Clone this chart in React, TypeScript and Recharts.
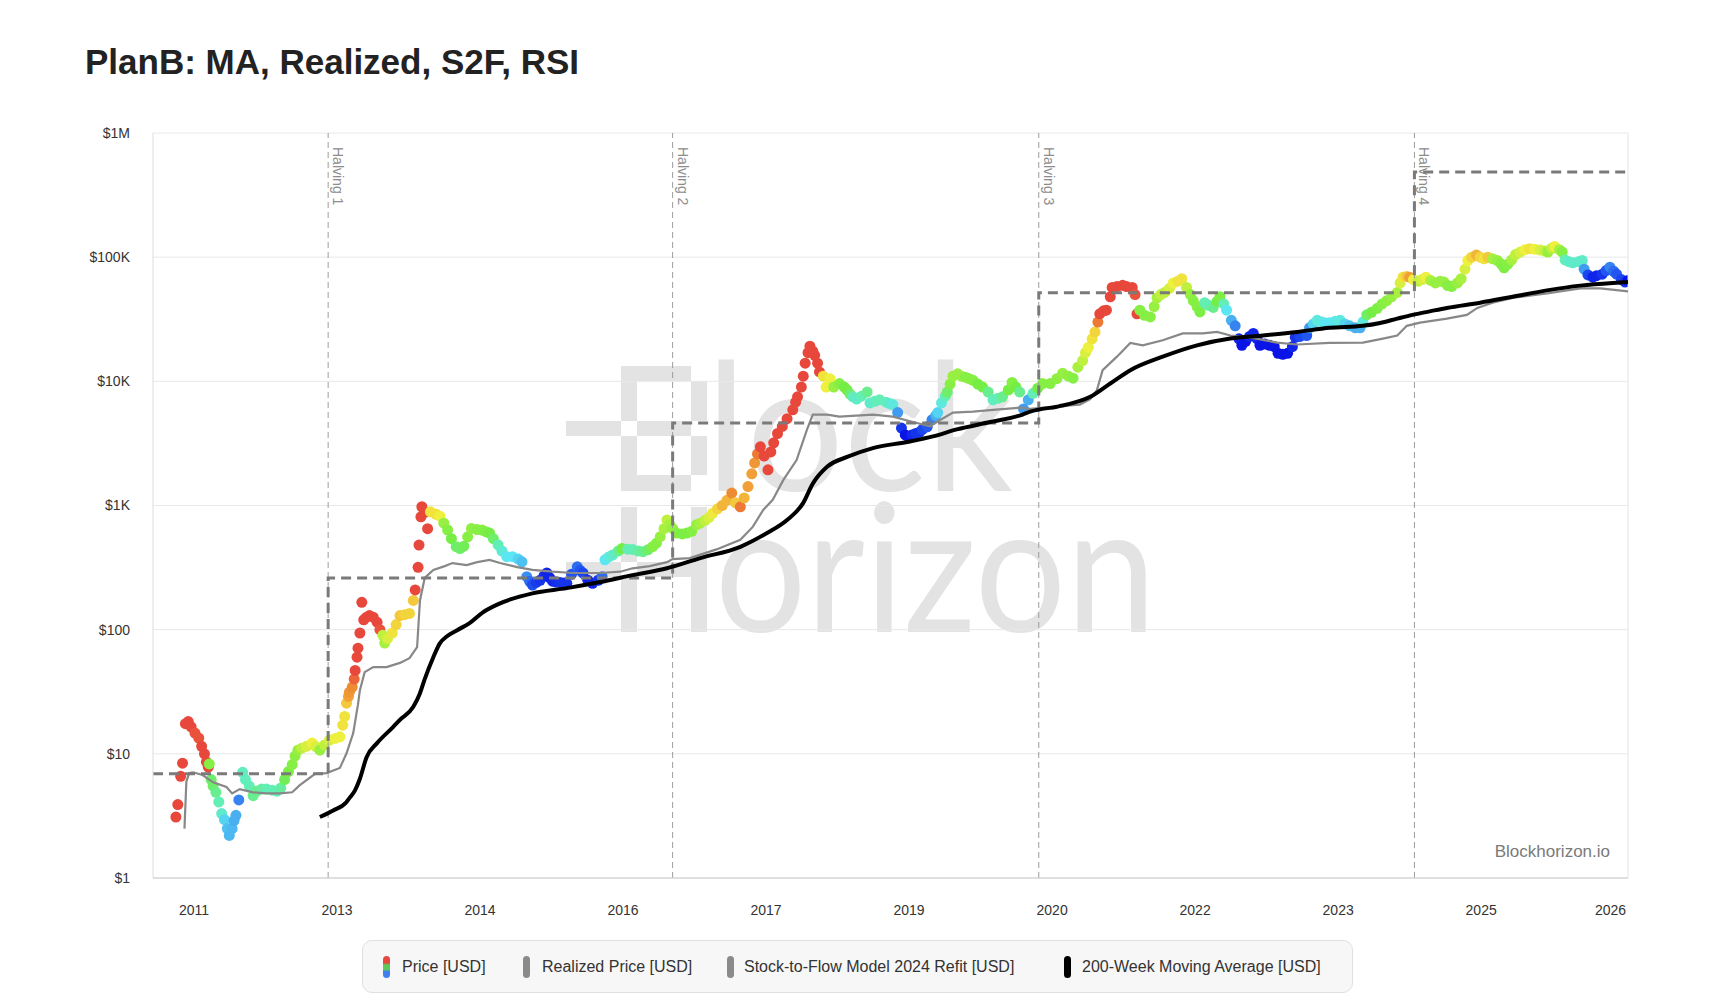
import * as React from "react";
import {
  ComposedChart,
  Line,
  Scatter,
  XAxis,
  YAxis,
  CartesianGrid,
  ReferenceLine,
} from "recharts";

// ── Data ───────────────────────────────────────────────────────────────
// weekly-ish price samples: [decimal year, price USD, RSI]
const PRICE_RSI: [number, number, number][] = [
  [2011.31, 3.1, 92], [2011.33, 3.9, 92], [2011.36, 6.6, 90], [2011.38, 8.4, 90],
  [2011.41, 17.5, 86], [2011.44, 18.2, 85], [2011.47, 16.5, 85], [2011.51, 14.7, 84],
  [2011.55, 13.4, 84], [2011.58, 11.5, 86], [2011.61, 10.0, 86], [2011.63, 8.6, 86],
  [2011.65, 7.8, 86], [2011.66, 8.3, 56], [2011.68, 6.2, 52], [2011.7, 5.5, 52],
  [2011.73, 4.9, 50], [2011.76, 4.1, 48], [2011.79, 3.3, 46], [2011.82, 2.95, 40],
  [2011.85, 2.5, 38], [2011.87, 2.2, 37], [2011.9, 2.5, 37], [2011.92, 2.9, 36],
  [2011.94, 3.2, 36], [2011.97, 4.25, 32], [2012.01, 7.1, 47], [2012.04, 6.2, 47],
  [2012.08, 5.5, 48], [2012.12, 4.6, 50], [2012.16, 5.0, 50], [2012.21, 5.2, 49],
  [2012.26, 5.2, 48], [2012.32, 5.1, 48], [2012.37, 5.0, 48], [2012.41, 5.3, 49],
  [2012.45, 6.2, 53], [2012.49, 7.2, 55], [2012.53, 8.2, 56], [2012.56, 9.6, 57],
  [2012.59, 10.7, 58], [2012.63, 11.1, 62], [2012.68, 11.5, 64], [2012.74, 12.2, 66],
  [2012.78, 11.4, 64], [2012.82, 10.7, 58], [2012.87, 11.8, 62], [2012.92, 12.9, 64],
  [2012.98, 13.3, 66], [2013.03, 13.7, 66], [2013.06, 17, 68], [2013.08, 20, 68],
  [2013.1, 25.6, 72], [2013.12, 29, 76], [2013.13, 31.4, 77], [2013.16, 34.5, 78],
  [2013.18, 40, 82], [2013.19, 47, 85], [2013.21, 60, 86], [2013.22, 71, 86],
  [2013.24, 94, 86], [2013.26, 166, 86], [2013.28, 120, 85], [2013.31, 126, 85],
  [2013.34, 130, 85], [2013.38, 126, 85], [2013.42, 115, 85], [2013.45, 100, 84],
  [2013.48, 90, 62], [2013.5, 78, 60], [2013.53, 85, 64], [2013.58, 94, 68],
  [2013.62, 110, 70], [2013.66, 130, 72], [2013.71, 132, 70], [2013.76, 135, 70],
  [2013.8, 172, 72], [2013.82, 209, 86], [2013.85, 318, 88], [2013.86, 480, 88],
  [2013.88, 810, 90], [2013.89, 977, 90], [2013.92, 880, 88], [2013.95, 650, 86],
  [2013.98, 889, 68], [2014.04, 850, 68], [2014.08, 820, 66], [2014.12, 720, 58],
  [2014.16, 635, 56], [2014.2, 540, 54], [2014.25, 466, 52], [2014.29, 450, 52],
  [2014.33, 470, 53], [2014.37, 560, 56], [2014.41, 653, 57], [2014.47, 640, 56],
  [2014.52, 635, 56], [2014.56, 615, 55], [2014.6, 600, 54], [2014.64, 540, 52],
  [2014.69, 481, 48], [2014.73, 430, 45], [2014.78, 387, 42], [2014.84, 387, 42],
  [2014.9, 370, 40], [2014.94, 352, 38], [2014.99, 267, 33], [2015.02, 245, 30],
  [2015.05, 229, 27], [2015.09, 240, 25], [2015.13, 250, 24], [2015.17, 270, 23],
  [2015.2, 286, 22], [2015.23, 262, 22], [2015.26, 246, 22], [2015.3, 242, 23],
  [2015.34, 240, 24], [2015.38, 238, 24], [2015.41, 236, 24], [2015.46, 280, 28],
  [2015.52, 321, 30], [2015.55, 300, 28], [2015.58, 286, 26], [2015.63, 250, 22],
  [2015.68, 236, 22], [2015.74, 250, 24], [2015.78, 267, 30], [2015.81, 365, 42],
  [2015.85, 385, 44], [2015.89, 399, 46], [2015.95, 430, 50], [2015.99, 451, 54],
  [2016.05, 445, 48], [2016.1, 443, 48], [2016.16, 430, 49], [2016.21, 425, 50],
  [2016.26, 440, 52], [2016.31, 466, 56], [2016.35, 497, 56], [2016.39, 561, 58],
  [2016.43, 650, 60], [2016.46, 764, 62], [2016.49, 700, 60], [2016.52, 653, 58],
  [2016.56, 600, 56], [2016.62, 590, 55], [2016.67, 600, 55], [2016.72, 620, 56],
  [2016.77, 700, 58], [2016.81, 720, 60], [2016.86, 760, 62], [2016.9, 800, 64],
  [2016.94, 866, 67], [2016.99, 940, 70], [2017.04, 1000, 74], [2017.09, 1100, 74],
  [2017.14, 1260, 78], [2017.18, 1050, 72], [2017.23, 976, 80], [2017.27, 1150, 74],
  [2017.31, 1420, 76], [2017.35, 1800, 76], [2017.38, 2200, 77], [2017.41, 2600, 80],
  [2017.44, 2970, 86], [2017.48, 2500, 86], [2017.52, 1940, 86], [2017.55, 2700, 86],
  [2017.58, 3200, 86], [2017.62, 3800, 86], [2017.67, 4330, 86], [2017.72, 5000, 86],
  [2017.78, 5900, 86], [2017.81, 6800, 86], [2017.83, 7500, 86], [2017.87, 9000, 88],
  [2017.89, 11000, 88], [2017.91, 14000, 88], [2017.94, 17000, 88], [2017.96, 19200, 88],
  [2017.99, 17500, 86], [2018.01, 16200, 86], [2018.04, 14000, 86], [2018.06, 11900, 86],
  [2018.1, 11000, 68], [2018.13, 9000, 66], [2018.17, 10500, 66], [2018.21, 9000, 58],
  [2018.27, 9600, 56], [2018.32, 9000, 54], [2018.35, 8500, 54], [2018.38, 7900, 52],
  [2018.41, 7500, 48], [2018.45, 7200, 46], [2018.5, 7600, 48], [2018.56, 8200, 50],
  [2018.59, 6700, 46], [2018.64, 6900, 47], [2018.69, 7100, 48], [2018.76, 6800, 47],
  [2018.8, 6600, 46], [2018.83, 6500, 44], [2018.88, 5600, 34], [2018.92, 4200, 24],
  [2018.96, 3700, 20], [2018.99, 3600, 20], [2019.03, 3700, 22], [2019.07, 3800, 24],
  [2019.11, 3900, 24], [2019.14, 4100, 26], [2019.19, 4300, 28], [2019.24, 4900, 32],
  [2019.28, 5300, 36], [2019.3, 5600, 40], [2019.34, 6700, 44], [2019.38, 7600, 48],
  [2019.4, 8200, 52], [2019.43, 9500, 56], [2019.46, 11000, 58], [2019.51, 11500, 58],
  [2019.55, 11000, 58], [2019.59, 10800, 56], [2019.63, 10500, 56], [2019.67, 10200, 56],
  [2019.72, 9500, 54], [2019.77, 9000, 54], [2019.83, 8200, 50], [2019.88, 7100, 47],
  [2019.93, 7300, 48], [2019.98, 7500, 50], [2020.04, 8500, 54], [2020.08, 9800, 56],
  [2020.12, 9000, 54], [2020.16, 8200, 50], [2020.2, 6000, 34], [2020.25, 7100, 36],
  [2020.3, 8000, 48], [2020.35, 8800, 54], [2020.4, 9600, 56], [2020.48, 9600, 56],
  [2020.55, 10500, 57], [2020.61, 11600, 58], [2020.67, 11000, 57], [2020.72, 10600, 56],
  [2020.77, 13000, 60], [2020.82, 14700, 62], [2020.85, 17000, 64], [2020.88, 18800, 66],
  [2020.92, 22000, 68], [2020.95, 25000, 70], [2020.98, 30000, 80], [2021.0, 35000, 86],
  [2021.04, 37000, 86], [2021.07, 37400, 86], [2021.11, 48000, 86], [2021.13, 57000, 86],
  [2021.18, 58000, 86], [2021.24, 59300, 86], [2021.28, 58000, 86], [2021.34, 57000, 86],
  [2021.37, 50000, 84], [2021.39, 35000, 86], [2021.42, 37400, 56], [2021.47, 34000, 56],
  [2021.53, 33000, 56], [2021.57, 40000, 58], [2021.6, 47000, 60], [2021.64, 50000, 62],
  [2021.68, 52000, 62], [2021.73, 56000, 64], [2021.77, 62000, 66], [2021.82, 64000, 68],
  [2021.86, 67000, 68], [2021.91, 57000, 62], [2021.95, 50000, 58], [2021.98, 44600, 56],
  [2022.02, 40000, 56], [2022.05, 36200, 55], [2022.1, 43000, 48], [2022.14, 41000, 48],
  [2022.19, 39400, 50], [2022.23, 44000, 54], [2022.26, 48000, 55], [2022.3, 42000, 48],
  [2022.33, 37400, 42], [2022.38, 31000, 36], [2022.42, 28000, 32], [2022.46, 22000, 22],
  [2022.49, 19500, 20], [2022.53, 21000, 20], [2022.57, 23000, 22], [2022.61, 24300, 22],
  [2022.65, 22000, 22], [2022.68, 19500, 20], [2022.73, 20000, 20], [2022.78, 19500, 20],
  [2022.83, 19000, 20], [2022.87, 16800, 18], [2022.92, 16500, 18], [2022.97, 16800, 18],
  [2023.02, 19000, 22], [2023.05, 22600, 24], [2023.1, 23000, 26], [2023.17, 23400, 28],
  [2023.2, 27000, 34], [2023.24, 29000, 40], [2023.28, 31000, 44], [2023.33, 30000, 44],
  [2023.37, 29500, 42], [2023.41, 29700, 42], [2023.47, 30500, 43], [2023.52, 31000, 44],
  [2023.57, 29000, 40], [2023.62, 28000, 38], [2023.68, 27000, 36], [2023.73, 27000, 36],
  [2023.76, 30000, 44], [2023.8, 34300, 52], [2023.85, 36000, 54], [2023.91, 38700, 55],
  [2023.96, 42000, 56], [2024.01, 44600, 57], [2024.06, 48000, 58], [2024.12, 52000, 60],
  [2024.15, 62000, 64], [2024.18, 69000, 68], [2024.22, 70000, 72], [2024.25, 69000, 76],
  [2024.29, 66000, 66], [2024.34, 64000, 62], [2024.38, 66000, 64], [2024.42, 69000, 66],
  [2024.47, 65000, 60], [2024.52, 62000, 58], [2024.57, 64000, 58], [2024.61, 63000, 58],
  [2024.65, 59000, 56], [2024.69, 58000, 56], [2024.75, 62000, 58], [2024.79, 67000, 60],
  [2024.83, 80000, 64], [2024.86, 94000, 66], [2024.9, 100000, 70], [2024.95, 104000, 74],
  [2024.99, 100000, 70], [2025.03, 97000, 68], [2025.07, 100000, 72], [2025.12, 97000, 60],
  [2025.17, 94000, 58], [2025.21, 88000, 56], [2025.24, 82000, 55], [2025.28, 88000, 56],
  [2025.32, 95000, 60], [2025.36, 105000, 62], [2025.41, 110000, 64], [2025.46, 115000, 66],
  [2025.51, 117000, 68], [2025.56, 116000, 66], [2025.62, 114000, 64], [2025.67, 112000, 62],
  [2025.7, 110000, 58], [2025.74, 118000, 62], [2025.77, 122000, 66], [2025.82, 115000, 60],
  [2025.85, 110000, 56], [2025.88, 95000, 48], [2025.92, 92000, 46], [2025.96, 90000, 46],
  [2026.02, 92000, 46], [2026.06, 94000, 46], [2026.08, 80000, 34], [2026.12, 72000, 26],
  [2026.17, 69000, 22], [2026.21, 71000, 22], [2026.27, 73000, 24], [2026.31, 78000, 28],
  [2026.35, 83000, 32], [2026.39, 77000, 30], [2026.42, 73000, 28], [2026.47, 66000, 26],
  [2026.51, 63000, 24], [2026.54, 65000, 20],
];

const REALIZED: [number, number][] = [
  [2011.4, 2.5], [2011.42, 6.0], [2011.45, 7.0], [2011.49, 7.1], [2011.59, 6.75],
  [2011.7, 5.9], [2011.84, 5.4], [2011.9, 4.8], [2011.98, 5.2], [2012.12, 4.9],
  [2012.26, 4.8], [2012.4, 4.8], [2012.53, 4.9], [2012.61, 5.6], [2012.77, 6.9],
  [2012.89, 7.0], [2013.03, 7.7], [2013.1, 10.1], [2013.17, 14.7], [2013.22, 25],
  [2013.24, 32.6], [2013.29, 45.5], [2013.38, 50], [2013.52, 50], [2013.66, 54],
  [2013.76, 59], [2013.84, 72.5], [2013.87, 172], [2013.92, 261], [2014.01, 303],
  [2014.13, 325], [2014.21, 344], [2014.36, 331], [2014.47, 350], [2014.6, 364],
  [2014.71, 344], [2014.89, 319], [2015.05, 303], [2015.26, 293], [2015.47, 286],
  [2015.76, 286], [2015.97, 293], [2016.1, 312], [2016.28, 325], [2016.46, 350],
  [2016.52, 370], [2016.7, 377], [2016.98, 443], [2017.23, 530], [2017.36, 672],
  [2017.47, 920], [2017.57, 1110], [2017.68, 1600], [2017.82, 2320], [2017.93, 4100],
  [2017.99, 5400], [2018.14, 5400], [2018.27, 5200], [2018.62, 5400], [2018.83, 5200],
  [2019.04, 4700], [2019.22, 4350], [2019.29, 4700], [2019.46, 5600], [2019.67, 5700],
  [2019.88, 5900], [2020.16, 6140], [2020.27, 6000], [2020.58, 6300], [2020.79, 6500],
  [2020.9, 7200], [2020.97, 8500], [2021.03, 12300], [2021.18, 15800], [2021.32, 20400],
  [2021.45, 19500], [2021.66, 21400], [2021.87, 24300], [2022.08, 24300], [2022.23, 25000],
  [2022.37, 23400], [2022.57, 22600], [2022.86, 20500], [2023.07, 19800], [2023.41, 20400],
  [2023.76, 20500], [2023.97, 22100], [2024.12, 23400], [2024.22, 28000], [2024.36, 29700],
  [2024.64, 32000], [2024.85, 34300], [2024.96, 39000], [2025.12, 43000], [2025.33, 47000],
  [2025.69, 51000], [2026.04, 56000], [2026.25, 56000], [2026.54, 53000],
];

const WMA_200: [number, number][] = [
  [2012.82, 3.1], [2012.96, 3.5], [2013.1, 4.1], [2013.13, 4.4], [2013.19, 5.1],
  [2013.24, 6.3], [2013.31, 9.4], [2013.42, 12.2], [2013.59, 16.5], [2013.66, 18.8],
  [2013.8, 23.9], [2013.87, 30.8], [2013.92, 40], [2014.01, 60], [2014.08, 78],
  [2014.15, 88], [2014.26, 99], [2014.39, 113], [2014.53, 138], [2014.71, 163],
  [2015.05, 196], [2015.41, 216], [2015.76, 242], [2016.1, 275], [2016.46, 312],
  [2016.81, 377], [2017.23, 465], [2017.51, 600], [2017.72, 764], [2017.89, 1050],
  [2017.99, 1500], [2018.14, 2050], [2018.35, 2460], [2018.62, 2900], [2018.98, 3250],
  [2019.25, 3600], [2019.5, 4100], [2019.85, 4700], [2020.19, 5400], [2020.27, 5700],
  [2020.55, 6250], [2020.61, 6380], [2020.9, 7500], [2021.11, 9600], [2021.32, 12300],
  [2021.66, 15800], [2022.02, 19500], [2022.37, 22100], [2022.71, 23400], [2023.07, 25000],
  [2023.41, 27000], [2023.76, 28000], [2023.94, 29500], [2024.12, 32000], [2024.28, 34300],
  [2024.46, 36600], [2024.64, 39000], [2024.99, 43000], [2025.33, 48000], [2025.69, 54000],
  [2026.04, 59000], [2026.38, 62000], [2026.54, 63000],
];

const HALVING_YEARS = [2012.907, 2016.52, 2020.36, 2024.3];
const HALVING_LABELS = ["Halving 1", "Halving 2", "Halving 3", "Halving 4"];
// S2F model value per halving epoch
const S2F_LEVELS = [6.9, 261, 4620, 51700, 485000];

const X_DOMAIN: [number, number] = [2011.07, 2026.54];
const X_TICKS = [2011.5, 2013, 2014.5, 2016, 2017.5, 2019, 2020.5, 2022, 2023.5, 2025, 2026.5];
const Y_TICKS = [1, 10, 100, 1000, 10000, 100000, 1000000];
const Y_LABELS = ["$1", "$10", "$100", "$1K", "$10K", "$100K", "$1M"];

// ── Colours ────────────────────────────────────────────────────────────
const RSI_STOPS: [number, string][] = [
  [20, "#0a14e6"],
  [28, "#2256f0"],
  [35, "#46a6f0"],
  [42, "#5ae6f2"],
  [48, "#62eeb4"],
  [54, "#74ee44"],
  [60, "#a8f040"],
  [66, "#eef03e"],
  [72, "#f4c83c"],
  [78, "#ee8c34"],
  [85, "#e8483c"],
];

function hexToRgb(h: string) {
  const n = parseInt(h.slice(1), 16);
  return [(n >> 16) & 255, (n >> 8) & 255, n & 255];
}

function rsiColor(rsi: number): string {
  if (rsi <= RSI_STOPS[0][0]) return RSI_STOPS[0][1];
  for (let i = 1; i < RSI_STOPS.length; i++) {
    const [r1, c1] = RSI_STOPS[i];
    if (rsi <= r1) {
      const [r0, c0] = RSI_STOPS[i - 1];
      const t = (rsi - r0) / (r1 - r0);
      const a = hexToRgb(c0);
      const b = hexToRgb(c1);
      const m = a.map((v, k) => Math.round(v + (b[k] - v) * t));
      return `rgb(${m[0]},${m[1]},${m[2]})`;
    }
  }
  return RSI_STOPS[RSI_STOPS.length - 1][1];
}

// ── Derived series ─────────────────────────────────────────────────────
const priceData = PRICE_RSI.map(([year, price, rsi]) => ({ year, price, fill: rsiColor(rsi) }));
const realizedData = REALIZED.map(([year, value]) => ({ year, value }));
const wmaData = WMA_200.map(([year, value]) => ({ year, value }));
const s2fData = (() => {
  const pts = [{ year: X_DOMAIN[0], value: S2F_LEVELS[0] }];
  HALVING_YEARS.forEach((h, i) => {
    pts.push({ year: h, value: S2F_LEVELS[i] });
    pts.push({ year: h, value: S2F_LEVELS[i + 1] });
  });
  pts.push({ year: X_DOMAIN[1], value: S2F_LEVELS[S2F_LEVELS.length - 1] });
  return pts;
})();

const FONT = "'Liberation Sans', Arial, Helvetica, sans-serif";

// ── Pieces ─────────────────────────────────────────────────────────────
function PriceDot(props: any) {
  const { cx, cy, payload } = props;
  if (cx == null || cy == null) return null;
  return <circle cx={cx} cy={cy} r={5.5} fill={payload.fill} />;
}

function YearTick({ x, y, payload }: any) {
  const last = payload.value === X_TICKS[X_TICKS.length - 1];
  return (
    <text
      x={last ? x + 2 : x}
      y={y}
      dy="0.71em"
      textAnchor={last ? "end" : "middle"}
      fill="#333"
      fontSize={14}
    >
      {Math.floor(payload.value)}
    </text>
  );
}

function HalvingLabel(props: any) {
  const { viewBox, value } = props;
  if (!viewBox) return null;
  const x0 = viewBox.x + 5;
  const y0 = viewBox.y + 14;
  return (
    <text x={x0} y={y0} transform={`rotate(90 ${x0} ${y0})`} fill="#8c8c8c" fontSize={14}>
      {value}
    </text>
  );
}

const WM = "#e3e3e3";

function Watermark() {
  return (
    <svg width={1725} height={1002} style={{ position: "absolute", left: 0, top: 0 }}>
      {/* pixel B */}
      <rect x={621} y={366} width={70} height={15} fill={WM} />
      <rect x={621} y={381} width={16} height={40} fill={WM} />
      <rect x={621} y={436} width={16} height={39} fill={WM} />
      <rect x={621} y={475} width={70} height={16} fill={WM} />
      <rect x={691} y={381} width={16} height={40} fill={WM} />
      <rect x={691} y={436} width={16} height={39} fill={WM} />
      <rect x={566} y={421} width={55} height={15} fill={WM} />
      <rect x={637} y={421} width={54} height={15} fill={WM} />
      {/* pixel H */}
      <rect x={621} y={507} width={16} height={55} fill={WM} />
      <rect x={621} y={577} width={16} height={55} fill={WM} />
      <rect x={691} y={507} width={16} height={125} fill={WM} />
      <rect x={566} y={562} width={55} height={15} fill={WM} />
      <rect x={637} y={562} width={54} height={15} fill={WM} />
      <text fontFamily="Lato, 'Open Sans', sans-serif" fontSize={178} fill={WM}>
        <tspan x={706} y={491} textLength={307} lengthAdjust="spacingAndGlyphs">lock</tspan>
        <tspan x={715} y={632} textLength={441} lengthAdjust="spacingAndGlyphs">orizon</tspan>
      </text>
    </svg>
  );
}

const LEGEND_ITEMS = [
  { label: "Price [USD]", marker: "price", left: 20, textLeft: 39 },
  { label: "Realized Price [USD]", marker: "#8a8a8a", left: 160, textLeft: 179 },
  { label: "Stock-to-Flow Model 2024 Refit [USD]", marker: "#8a8a8a", left: 364, textLeft: 381 },
  { label: "200-Week Moving Average [USD]", marker: "#000", left: 701, textLeft: 719 },
];

function ChartLegend() {
  return (
    <div
      style={{
        position: "absolute",
        left: 362,
        top: 940,
        width: 991,
        height: 53,
        boxSizing: "border-box",
        background: "#f7f7f7",
        border: "1px solid #e0e0e0",
        borderRadius: 10,
      }}
    >
      {LEGEND_ITEMS.map((it) => (
        <React.Fragment key={it.label}>
          <div
            style={{
              position: "absolute",
              left: it.left,
              top: 15,
              width: 7,
              height: 22,
              borderRadius: 4,
              background:
                it.marker === "price"
                  ? "linear-gradient(to bottom, #e8483c 0%, #e8483c 32%, #5cc95a 40%, #5cc95a 62%, #3f7ff0 70%, #3f7ff0 100%)"
                  : it.marker,
            }}
          />
          <div
            style={{
              position: "absolute",
              left: it.textLeft,
              top: 0,
              height: 51,
              lineHeight: "51px",
              fontSize: 16,
              color: "#333",
              whiteSpace: "nowrap",
            }}
          >
            {it.label}
          </div>
        </React.Fragment>
      ))}
    </div>
  );
}

// ── Chart ──────────────────────────────────────────────────────────────
export default function App() {
  return (
    <div
      style={{
        position: "absolute",
        left: 0,
        top: 0,
        width: 1725,
        height: 1002,
        background: "#fff",
        overflow: "hidden",
        fontFamily: FONT,
      }}
    >
      <Watermark />
      <div style={{ position: "absolute", left: 0, top: 0 }}>
        <ComposedChart
          width={1725}
          height={940}
          margin={{ top: 133, right: 97, bottom: 22, left: 0 }}
        >
          <CartesianGrid vertical={false} stroke="#e8e8e8" />
          <XAxis
            dataKey="year"
            type="number"
            domain={X_DOMAIN}
            ticks={X_TICKS}
            interval={0}
            allowDataOverflow
            height={40}
            tickSize={0}
            tickMargin={27}
            tick={<YearTick />}
            axisLine={{ stroke: "#cccccc" }}
            tickLine={false}
          />
          <YAxis
            type="number"
            scale="log"
            domain={[1, 1000000]}
            ticks={Y_TICKS}
            interval={0}
            allowDataOverflow
            width={153}
            tickSize={0}
            tickMargin={23}
            tick={{ fill: "#333", fontSize: 14 }}
            tickFormatter={(v: number) => Y_LABELS[Y_TICKS.indexOf(v)] ?? ""}
            axisLine={{ stroke: "#dddddd" }}
            tickLine={false}
          />
          <ReferenceLine x={X_DOMAIN[1]} stroke="#e4e4e4" />
          {HALVING_YEARS.map((h, i) => (
            <ReferenceLine
              key={h}
              x={h}
              stroke="#9c9c9c"
              strokeDasharray="6 4"
              label={{ value: HALVING_LABELS[i], content: HalvingLabel }}
            />
          ))}
          <Scatter
            data={priceData}
            dataKey="price"
            shape={PriceDot}
            zIndex={350}
            isAnimationActive={false}
          />
          <Line
            data={realizedData}
            dataKey="value"
            type="linear"
            stroke="#888888"
            strokeWidth={2.2}
            dot={false}
            activeDot={false}
            isAnimationActive={false}
          />
          <Line
            data={s2fData}
            dataKey="value"
            type="linear"
            stroke="#7a7a7a"
            strokeWidth={3}
            strokeDasharray="10 6"
            dot={false}
            activeDot={false}
            isAnimationActive={false}
          />
          <Line
            data={wmaData}
            dataKey="value"
            type="monotone"
            stroke="#000000"
            strokeWidth={4}
            dot={false}
            activeDot={false}
            isAnimationActive={false}
          />
        </ComposedChart>
      </div>
      <svg
        width={1725}
        height={1002}
        style={{ position: "absolute", left: 0, top: 0, pointerEvents: "none" }}
      >
        <text x={85} y={74} fontSize={35} fontWeight="bold" fill="#222">
          PlanB: MA, Realized, S2F, RSI
        </text>
        <text x={1610} y={857} fontSize={17} fill="#7a7a7a" textAnchor="end">
          Blockhorizon.io
        </text>
      </svg>
      <ChartLegend />
    </div>
  );
}
